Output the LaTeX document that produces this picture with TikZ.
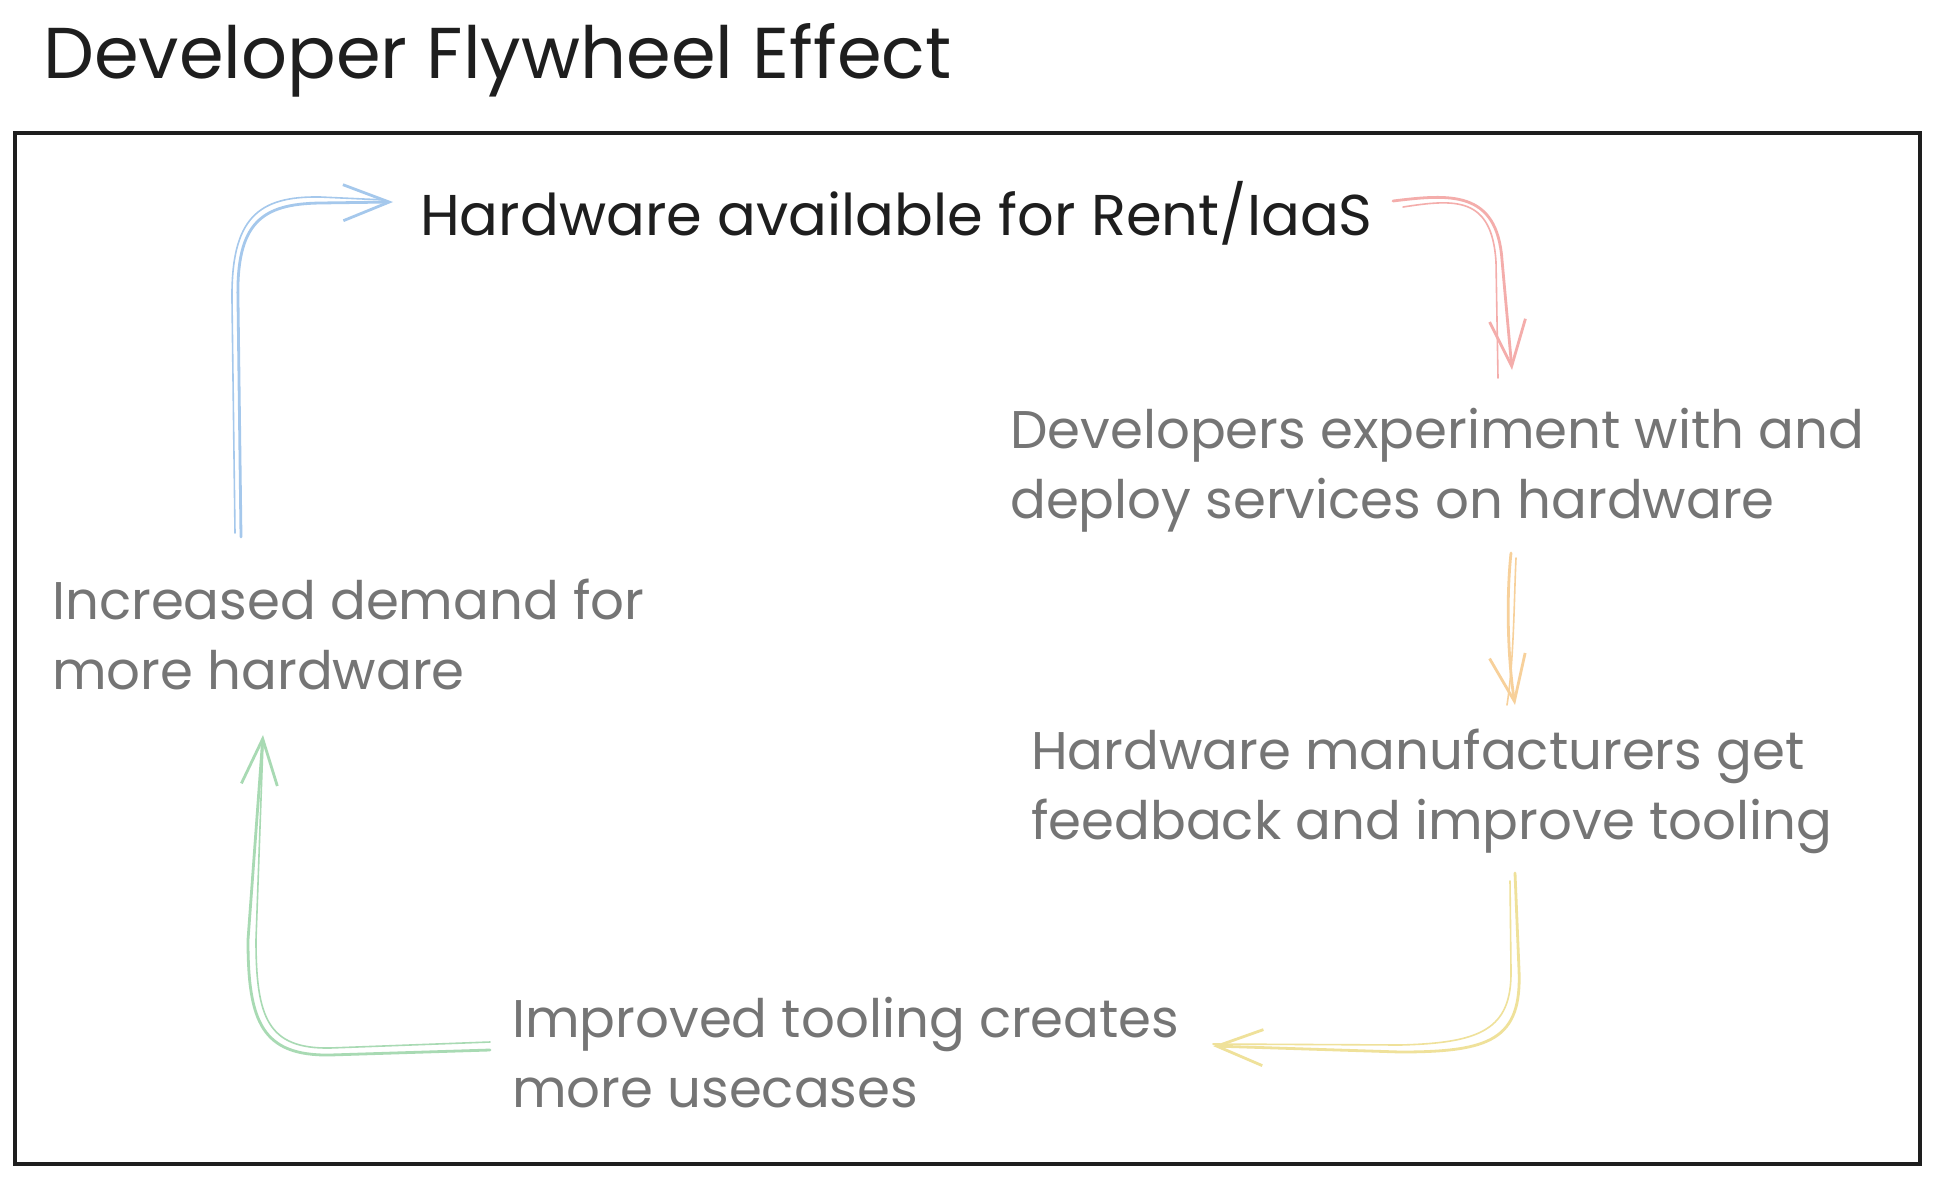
\documentclass[tikz,border=0pt]{standalone}
\usepackage{fontspec}
\setmainfont{Poppins}
\usetikzlibrary{arrows.meta,calc}
\definecolor{ink}{HTML}{1E1E1E}
\definecolor{greytext}{HTML}{757575}
\definecolor{ablue}{HTML}{A5C8EC}
\definecolor{ared}{HTML}{F4ADAB}
\definecolor{aorange}{HTML}{F7D09A}
\definecolor{ayellow}{HTML}{EFE19A}
\definecolor{agreen}{HTML}{A8DAB3}
\tikzset{
  titletext/.style={anchor=base west,inner sep=0pt,text=ink,font=\fontsize{72}{86}\selectfont},
  maintext/.style={anchor=base west,inner sep=0pt,text=ink,font=\fontsize{57.5}{70}\selectfont,align=left},
  greybox/.style={anchor=base west,inner sep=0pt,text=greytext,font=\fontsize{53}{70}\selectfont,align=left},
  flow/.style={line width=2.8pt,line cap=round,line join=round,-{Straight Barb[length=46pt,width=36pt,line width=2.8pt]}},
  flowb/.style={line width=1.6pt,line cap=round,line join=round},
}
\begin{document}
\begin{tikzpicture}[x=1pt,y=-1pt]
\useasboundingbox (0,0) rectangle (1936,1178);
\fill[white] (0,0) rectangle (1936,1178);
% frame
\draw[line width=3.5pt,ink] (15,133) rectangle (1920,1164);
% texts (base anchor of multi-line nodes = last line's baseline)
\node[titletext] (title) at (43,78) {Developer Flywheel Effect};
\node[maintext] (hw) at (420,235) {Hardware available for Rent/IaaS};
\node[greybox] (dev) at (1010,518) {Developers experiment with and\\deploy services on hardware};
\node[greybox] (man) at (1031,839) {Hardware manufacturers get\\feedback and improve tooling};
\node[greybox] (imp) at (512,1107) {Improved tooling creates\\more usecases};
\node[greybox] (inc) at (52,689) {Increased demand for\\more hardware};
% connector end points
\coordinate (b1) at (241,537);  \coordinate (b2) at (393,202);
\coordinate (r1) at (1393,201); \coordinate (r2) at (1512,370);
\coordinate (o1) at (1511,553); \coordinate (o2) at (1515,705);
\coordinate (y1) at (1515,873); \coordinate (y2) at (1213,1046);
\coordinate (g1) at (490,1050); \coordinate (g2) at (263,735);
% blue
\draw[flow,ablue] (b1) -- (238,300) .. controls (236,222) and (262,204) .. (320,203) -- (b2);
\draw[flowb,ablue] ($(b1)+(-6,-4)$) -- (232,300) .. controls (231,218) and (258,196) .. (320,197) -- ($(b2)+(-8,-2)$);
% red
\draw[flow,ared] (r1) .. controls (1450,194) and (1497,190) .. (1502,260) -- (r2);
\draw[flowb,ared] ($(r1)+(10,6)$) .. controls (1455,199) and (1492,196) .. (1496,262) -- ($(r2)+(-14,8)$);
% orange
\draw[flow,aorange] (o1) .. controls (1506,600) and (1508,660) .. (o2);
\draw[flowb,aorange] ($(o1)+(5,5)$) .. controls (1514,600) and (1514,660) .. ($(o2)+(-8,0)$);
% yellow
\draw[flow,ayellow] (y1) -- (1519,970) .. controls (1522,1040) and (1490,1052) .. (1400,1052) -- (y2);
\draw[flowb,ayellow] ($(y1)+(-5,8)$) -- (1511,970) .. controls (1512,1030) and (1480,1043) .. (1400,1045) -- ($(y2)+(0,-2)$);
% green
\draw[flow,agreen] (g1) -- (330,1055) .. controls (262,1056) and (248,1022) .. (248,940) -- (g2);
\draw[flowb,agreen] ($(g1)+(0,-8)$) -- (330,1048) .. controls (268,1049) and (256,1018) .. (256,940) -- ($(g2)+(0,8)$);
\end{tikzpicture}
\end{document}
